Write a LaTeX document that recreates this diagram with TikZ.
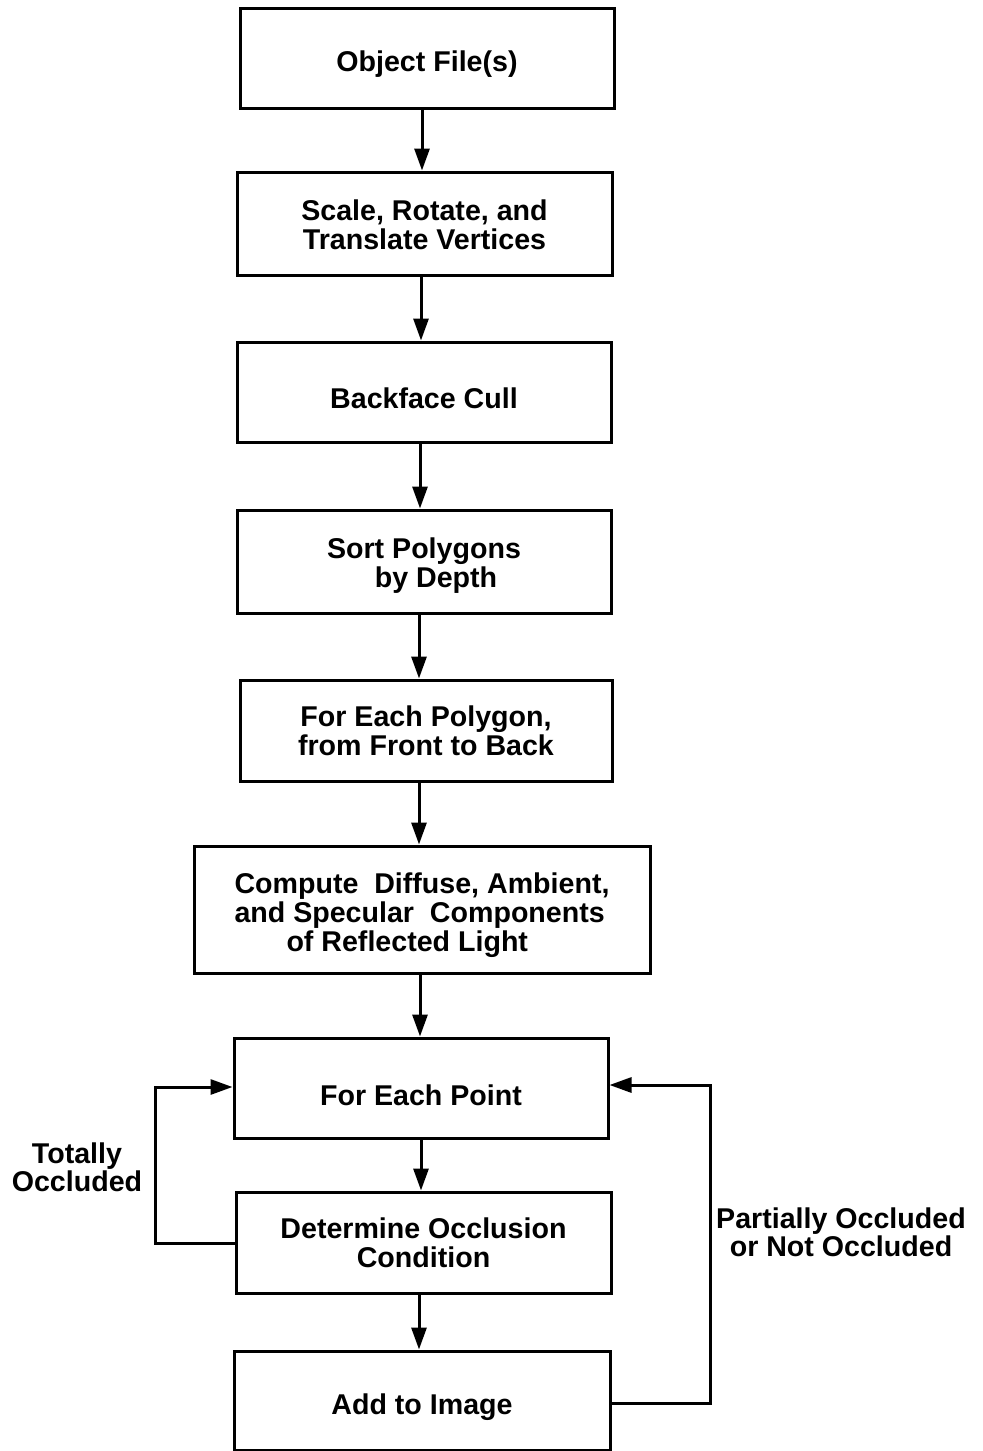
\documentclass[tikz,border=0pt]{standalone}
\usepackage{fontspec}
\setmainfont{Liberation Sans}
\usetikzlibrary{arrows.meta}
\newcommand{\bxt}[3]{\begin{tabular}{@{}#1@{}}\rule{0pt}{#2}#3\end{tabular}}
\begin{document}
\begin{tikzpicture}[x=0.5pt,y=-0.5pt,
  box/.style={draw, line width=1.5pt, rectangle, inner sep=0pt,
    font=\bfseries\fontsize{14.3}{14}\selectfont},
  lbl/.style={align=center, inner sep=0pt, font=\bfseries\fontsize{14.3}{14}\selectfont},
  arr/.style={line width=1.5pt, -{Triangle[length=11pt,width=7.5pt]}},
  ln/.style={line width=1.5pt}]
\useasboundingbox (0,0) rectangle (982,1451);
\node[box, minimum width=187pt, minimum height=50pt] (b1) at (427,58) {\bxt{c}{17.8pt}{Object File(s)}};
\node[box, minimum width=187.5pt, minimum height=51.5pt] (b2) at (424.5,223.5) {\bxt{c}{15.8pt}{Scale, Rotate, and\\Translate Vertices}};
\node[box, minimum width=187pt, minimum height=50pt] (b3) at (424,392) {\bxt{c}{20.8pt}{Backface Cull}};
\node[box, minimum width=187pt, minimum height=51.5pt] (b4) at (424,561.5) {\bxt{c}{15.8pt}{Sort Polygons\\\hspace*{12pt}by Depth}};
\node[box, minimum width=186pt, minimum height=50.5pt] (b5) at (426,730.5) {\bxt{c}{14.8pt}{For Each Polygon,\\from Front to Back}};
\node[box, minimum width=228pt, minimum height=63.5pt] (b6) at (422,909.5) {\bxt{l}{17.3pt}{Compute\ \ Diffuse, Ambient,\\and Specular\ \ Components\\\hspace*{26pt}of Reflected Light}};
\node[box, minimum width=187pt, minimum height=50pt] (b7) at (421,1088) {\bxt{c}{21.8pt}{For Each Point}};
\node[box, minimum width=187.5pt, minimum height=50.5pt] (b8) at (423.5,1242.5) {\bxt{c}{14.8pt}{Determine Occlusion\\Condition}};
\node[box, minimum width=188pt, minimum height=49.5pt] (b9) at (422,1400.5) {\bxt{c}{17.8pt}{Add to Image}};
\node[lbl] (t1) at (77,1167) {Totally\\Occluded};
\node[lbl] (t2) at (841,1232) {Partially Occluded\\or Not Occluded};
\coordinate (a1) at (422,0);
\coordinate (a2) at (421,0);
\coordinate (a3) at (420,0);
\coordinate (a4) at (419,0);
\draw[arr] (a1 |- b1.south) -- (a1 |- b2.north);
\draw[arr] (a2 |- b2.south) -- (a2 |- b3.north);
\draw[arr] (a3 |- b3.south) -- (a3 |- b4.north);
\draw[arr] (a4 |- b4.south) -- (a4 |- b5.north);
\draw[arr] (a4 |- b5.south) -- (a4 |- b6.north);
\draw[arr] (a3 |- b6.south) -- (a3 |- b7.north);
\draw[arr] (a2 |- b7.south) -- (a2 |- b8.north);
\draw[arr] (a4 |- b8.south) -- (a4 |- b9.north);
\coordinate (lx) at (155,0);
\coordinate (rx) at (710,0);
\coordinate (ly) at (0,1087);
\coordinate (ry) at (0,1085);
\coordinate (ly2) at (0,1243);
\coordinate (ry2) at (0,1403);
\draw[arr] (b8.west |- ly2) -- (lx |- ly2) -- (lx |- ly) -- (b7.west |- ly);
\draw[arr] (b9.east |- ry2) -- (rx |- ry2) -- (rx |- ry) -- (b7.east |- ry);
\end{tikzpicture}
\end{document}
